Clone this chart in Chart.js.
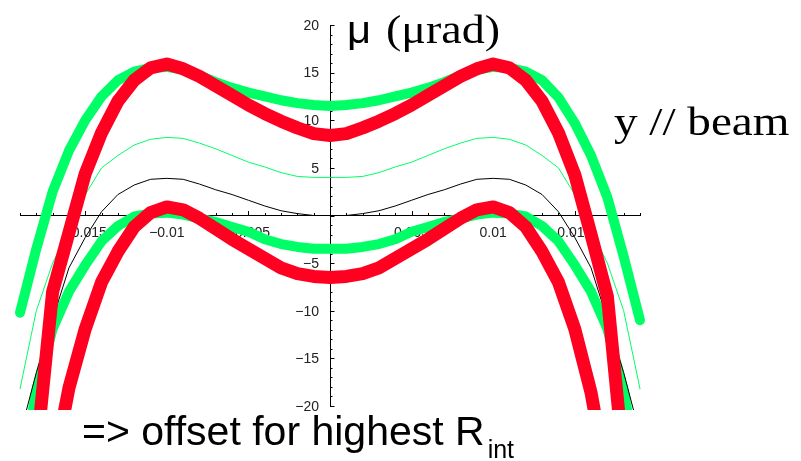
<!DOCTYPE html>
<html>
<head>
<meta charset="utf-8">
<script src="https://cdn.jsdelivr.net/npm/chart.js@4/dist/chart.umd.min.js"></script>
<style>
  html, body { margin: 0; padding: 0; background: #fff; }
  canvas { display: block; }
</style>
</head>
<body>
<canvas id="chart" width="801" height="461"></canvas>
<script>
// x positions (offset) shared by every curve
const offsets = [-0.019, -0.018, -0.017, -0.016, -0.015, -0.014, -0.013, -0.012, -0.011, -0.010,
  -0.009, -0.008, -0.007, -0.006, -0.005, -0.004, -0.003, -0.002, -0.001, 0,
  0.001, 0.002, 0.003, 0.004, 0.005, 0.006, 0.007, 0.008, 0.009, 0.010,
  0.011, 0.012, 0.013, 0.014, 0.015, 0.016, 0.017, 0.018, 0.019];

// thick green, upper
const greenUpper = [-10.2, -3.5, 2.5, 6.8, 10.0, 12.5, 14.2, 15.1, 15.5, 15.6,
  15.3, 14.7, 14.0, 13.4, 12.9, 12.5, 12.1, 11.8, 11.6, 11.5,
  11.6, 11.8, 12.1, 12.5, 12.9, 13.4, 14.0, 14.7, 15.3, 15.6,
  15.5, 15.1, 14.2, 12.4, 9.7, 6.3, 1.9, -4.3, -11.0];
// thick red, upper
const redUpper = [-40, -25, -8.0, -1.8, 4.4, 8.7, 12.0, 14.2, 15.5, 15.9,
  15.4, 14.6, 13.6, 12.6, 11.6, 10.7, 9.9, 9.2, 8.6, 8.4,
  8.6, 9.2, 9.9, 10.7, 11.6, 12.6, 13.6, 14.6, 15.4, 15.9,
  15.5, 14.2, 12.0, 8.7, 4.3, -2.0, -8.5, -26, -40];
// thin green
const greenThin = [-18.2, -10.0, -5.0, -1.5, 2.2, 5.0, 6.3, 7.4, 8.0, 8.2,
  8.1, 7.6, 7.0, 6.3, 5.6, 5.1, 4.5, 4.1, 4.0, 4.0,
  4.0, 4.1, 4.5, 5.1, 5.6, 6.3, 7.0, 7.6, 8.1, 8.2,
  8.0, 7.4, 6.3, 5.0, 2.2, -1.5, -5.0, -10.0, -18.2];
// thin black
const blackThin = [-23, -16.5, -10.9, -5.5, -2.3, 0.4, 2.2, 3.2, 3.8, 3.9,
  3.8, 3.3, 2.7, 2.2, 1.6, 1.0, 0.5, 0.2, 0.0, 0.0,
  0.0, 0.2, 0.5, 1.0, 1.6, 2.2, 2.7, 3.3, 3.8, 3.9,
  3.8, 3.2, 2.2, 0.4, -2.3, -5.5, -10.9, -16.5, -23];
// thick green, lower
const greenLower = [-28, -18.4, -11.9, -8.0, -5.2, -2.7, -1.1, -0.1, 0.2, 0.3,
  0.1, -0.3, -0.7, -1.2, -1.7, -2.5, -3.0, -3.3, -3.5, -3.5,
  -3.5, -3.3, -3.0, -2.5, -1.7, -1.2, -0.7, -0.3, 0.1, 0.3,
  0.2, -0.1, -1.1, -2.7, -5.2, -8.0, -11.9, -18.4, -28];
// thick red, lower
const redLower = [-45, -35, -27, -18.1, -11.9, -7.0, -3.8, -1.2, 0.3, 0.9,
  0.6, -0.3, -1.4, -2.5, -3.5, -4.5, -5.5, -6.1, -6.4, -6.5,
  -6.4, -6.1, -5.5, -4.5, -3.5, -2.5, -1.4, -0.3, 0.6, 0.9,
  0.3, -1.2, -3.8, -7.0, -11.9, -18.6, -28, -35, -45];

const xTicks = [-0.015, -0.01, -0.005, 0.005, 0.01, 0.015];
const yTicks = [-20, -15, -10, -5, 5, 10, 15, 20];

const RED = '#ff0020';
const GREEN = '#00ff66';
const TICK_FONT = '14px "Liberation Sans", Arial, sans-serif';

function pts(values) {
  return values.map((v, i) => ({ x: offsets[i], y: v }));
}

function line(values, color, width, order) {
  return {
    data: pts(values),
    borderColor: color,
    borderWidth: width,
    pointRadius: 0,
    tension: 0,
    fill: false,
    borderCapStyle: 'round',
    borderJoinStyle: 'round',
    clip: { left: 8, right: 8, top: 0, bottom: 4 },
    order: order,
  };
}

function fmt(v) {
  const r = Math.round(v * 1000) / 1000;
  const s = String(Math.abs(r));
  return r < 0 ? '\u2212' + s : s;
}

// minor / major tick marks pointing inward (Mathematica style) + y labels
const tickMarks = {
  id: 'tickMarks',
  beforeDatasetsDraw(chart) {
    const { ctx, scales: { x, y } } = chart;
    const x0 = x.getPixelForValue(0);
    const y0 = y.getPixelForValue(0);
    ctx.save();
    ctx.strokeStyle = '#000';
    ctx.lineWidth = 1;
    ctx.beginPath();
    for (let i = -19; i <= 19; i++) {
      const px = Math.round(x.getPixelForValue(i / 1000)) + 0.5;
      const len = i % 5 === 0 ? 4.5 : 2.5;
      ctx.moveTo(px, y0);
      ctx.lineTo(px, y0 - len);
    }
    for (let j = -20; j <= 20; j++) {
      const py = Math.round(y.getPixelForValue(j)) + 0.5;
      const len = j % 5 === 0 ? 4.5 : 2.5;
      ctx.moveTo(x0, py);
      ctx.lineTo(x0 + len, py);
    }
    ctx.stroke();

    ctx.fillStyle = '#222';
    ctx.font = TICK_FONT;
    ctx.textAlign = 'right';
    ctx.textBaseline = 'middle';
    yTicks.forEach(v => ctx.fillText(fmt(v), x0 - 11, y.getPixelForValue(v) + 1));
    ctx.restore();
  }
};

const captions = {
  id: 'captions',
  afterDraw(chart) {
    const ctx = chart.ctx;
    ctx.save();
    ctx.fillStyle = '#000';
    ctx.textBaseline = 'alphabetic';

    // axis title: sans mu followed by serif "(μrad)"
    ctx.save();
    ctx.translate(347, 43);
    ctx.scale(1.1, 1);
    ctx.font = '38px "Liberation Sans"';
    ctx.fillText('\u03bc', 0, 0);
    ctx.restore();

    ctx.save();
    ctx.translate(386, 43);
    ctx.scale(1.15, 1);
    ctx.font = '40px "Liberation Serif"';
    ctx.fillText('(\u03bcrad)', 0, 0);
    ctx.restore();

    ctx.save();
    ctx.translate(614, 135);
    ctx.scale(1.15, 1);
    ctx.font = '41px "Liberation Serif"';
    ctx.fillText('y // beam', 0, 0);
    ctx.restore();

    ctx.font = '41px "Liberation Sans"';
    const main = '=> offset for highest R';
    ctx.fillText(main, 82, 445);
    const w = ctx.measureText(main).width;
    ctx.font = '25px "Liberation Sans"';
    ctx.fillText('int', 82 + w + 3, 458);
    ctx.restore();
  }
};

new Chart(document.getElementById('chart'), {
  type: 'line',
  data: {
    datasets: [
      line(redUpper, RED, 13, 1),
      line(redLower, RED, 13, 2),
      line(blackThin, '#000', 1, 3),
      line(greenThin, GREEN, 1, 4),
      line(greenUpper, GREEN, 10, 5),
      line(greenLower, GREEN, 10, 6),
    ],
  },
  options: {
    responsive: false,
    animation: false,
    devicePixelRatio: 1,
    layout: { padding: { left: 20, right: 161, top: 25, bottom: 55 } },
    plugins: { legend: { display: false }, tooltip: { enabled: false } },
    scales: {
      x: {
        type: 'linear',
        min: -0.019,
        max: 0.019,
        position: { y: 0 },
        grid: { display: false, tickLength: 0 },
        border: { display: true, color: '#000', width: 1 },
        afterBuildTicks: (s) => { s.ticks = xTicks.map(v => ({ value: v })); },
        afterFit: (s) => { s.height = 0; s.paddingLeft = 0; s.paddingRight = 0; },
        ticks: {
          autoSkip: false,
          maxRotation: 0,
          padding: 9,
          color: '#222',
          font: { family: '"Liberation Sans", Arial, sans-serif', size: 14 },
          callback: (v) => fmt(v),
        },
      },
      y: {
        type: 'linear',
        min: -20,
        max: 20,
        position: { x: 0 },
        grid: { display: false, tickLength: 0 },
        border: { display: true, color: '#000', width: 1 },
        afterBuildTicks: (s) => { s.ticks = yTicks.map(v => ({ value: v })); },
        afterFit: (s) => { s.width = 0; s.paddingTop = 0; s.paddingBottom = 0; },
        ticks: { display: false },
      },
    },
  },
  plugins: [tickMarks, captions],
});
</script>
</body>
</html>
